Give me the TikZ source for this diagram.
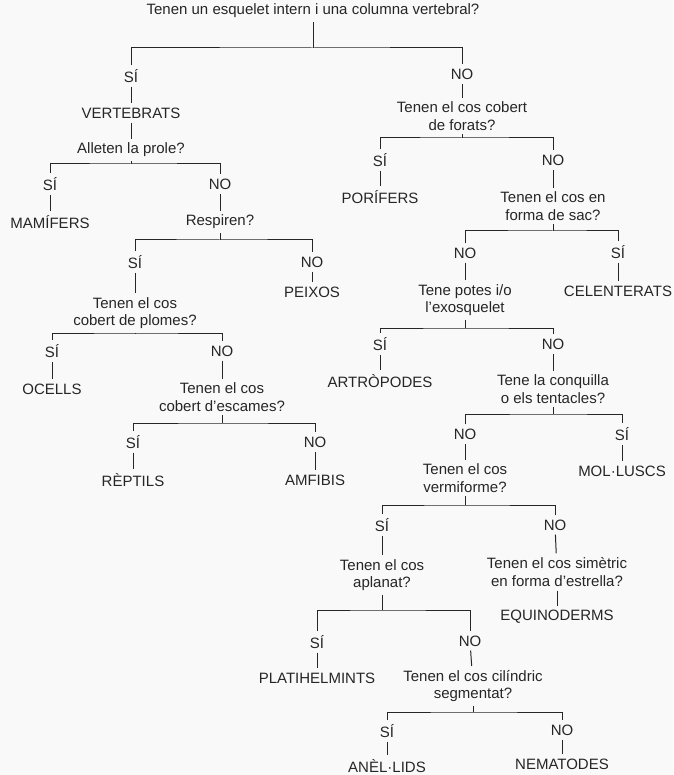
\documentclass[tikz,border=0pt]{standalone}
\usepackage{fontspec}
\setmainfont{Liberation Sans}
\begin{document}
\begin{tikzpicture}[
      x=1pt, y=-1pt,
      every node/.style={font=\fontsize{15}{17.5}\selectfont, align=center, inner sep=4pt, text=black!85},
      key/.style={draw=black!85, line width=1pt}
    ]
    \useasboundingbox[fill=gray!5] (0,0) rectangle (673,775);

    % root
    \node (q1) at (313,11) {Tenen un esquelet intern i una columna vertebral?};
    \node (s1) at (131,76) {SÍ};
    \node (n1) at (462,74) {NO};

    % vertebrats
    \node (vert) at (131,113) {VERTEBRATS};
    \node (q2) at (131,150) {Alleten la prole?};
    \node (s2) at (50,184) {SÍ};
    \node (n2) at (220,184) {NO};
    \node (mam) at (50,222) {MAMÍFERS};
    \node (q3) at (220,222) {Respiren?};
    \node (s3) at (135,262) {SÍ};
    \node (n3) at (312,262) {NO};
    \node (peix) at (312,292) {PEIXOS};
    \node (q4) at (135,313) {Tenen el cos\\cobert de plomes?};
    \node (s4) at (52,351) {SÍ};
    \node (n4) at (222,351) {NO};
    \node (ocell) at (52,389) {OCELLS};
    \node (q5) at (222,397) {Tenen el cos\\cobert d'escames?};
    \node (s5) at (133,442) {SÍ};
    \node (n5) at (315,442) {NO};
    \node (rept) at (133,480) {RÈPTILS};
    \node (amf) at (315,480) {AMFIBIS};

    % invertebrats
    \node (q6) at (462,116) {Tenen el cos cobert\\de forats?};
    \node (s6) at (380,160) {SÍ};
    \node (n6) at (553,160) {NO};
    \node (por) at (380,197) {PORÍFERS};
    \node (q7) at (553,206) {Tenen el cos en\\forma de sac?};
    \node (n7) at (465,253) {NO};
    \node (s7) at (618,252) {SÍ};
    \node (cel) at (618,291) {CELENTERATS};
    \node (q8) at (465,300) {Tene potes i/o\\l'exosquelet};
    \node (s8) at (380,344) {SÍ};
    \node (n8) at (553,344) {NO};
    \node (art) at (380,381) {ARTRÒPODES};
    \node (q9) at (553,389) {Tene la conquilla\\o els tentacles?};
    \node (n9) at (465,434) {NO};
    \node (s9) at (622,434) {SÍ};
    \node (mol) at (622,471) {MOL·LUSCS};
    \node (q10) at (465,478) {Tenen el cos\\vermiforme?};
    \node (s10) at (382,525) {SÍ};
    \node (n10) at (555,525) {NO};
    \node (q11) at (382,575) {Tenen el cos\\aplanat?};
    \node (q12) at (557,572) {Tenen el cos simètric\\en forma d'estrella?};
    \node (equi) at (557,617) {EQUINODERMS};
    \node (s11) at (317,642) {SÍ};
    \node (n11) at (470,641) {NO};
    \node (plat) at (317,678) {PLATIHELMINTS};
    \node (q13) at (473,686) {Tenen el cos cilíndric\\segmentat?};
    \node (s13) at (387,731) {SÍ};
    \node (n13) at (562,730) {NO};
    \node (anel) at (387,766) {ANÈL·LIDS};
    \node (nem) at (562,764) {NEMATODES};

    % bars of each question
    \coordinate (b1) at (313,48);
    \coordinate (b2) at (131,164);
    \coordinate (b3) at (220,240);
    \coordinate (b4) at (135,333);
    \coordinate (b5) at (222,423);
    \coordinate (b6) at (462,138);
    \coordinate (b7) at (553,231);
    \coordinate (b8) at (465,328);
    \coordinate (b9) at (553,414);
    \coordinate (b10) at (465,505);
    \coordinate (b11) at (382,610);
    \coordinate (b13) at (473,712);

    \foreach \q/\b/\l/\r in {q1/b1/s1/n1, q2/b2/s2/n2, q3/b3/s3/n3, q4/b4/s4/n4,
        q5/b5/s5/n5, q6/b6/s6/n6, q7/b7/n7/s7, q8/b8/s8/n8, q9/b9/n9/s9,
        q10/b10/s10/n10, q11/b11/s11/n11, q13/b13/s13/n13}{
      \draw[key] (\q) -- (\b);
      \draw[key] (\l) |- (\b) -| (\r);
    }

    % answers
    \foreach \a/\b in {s1/vert, vert/q2, n1/q6, s2/mam, n2/q3, n3/peix, s3/q4,
        s4/ocell, n4/q5, s5/rept, n5/amf, s6/por, n6/q7, n7/q8, s7/cel,
        s8/art, n8/q9, n9/q10, s9/mol, s10/q11, n10/q12, q12/equi,
        s11/plat, n11/q13, s13/anel, n13/nem}
      \draw[key] (\a) -- (\b);

\end{tikzpicture}
\end{document}
